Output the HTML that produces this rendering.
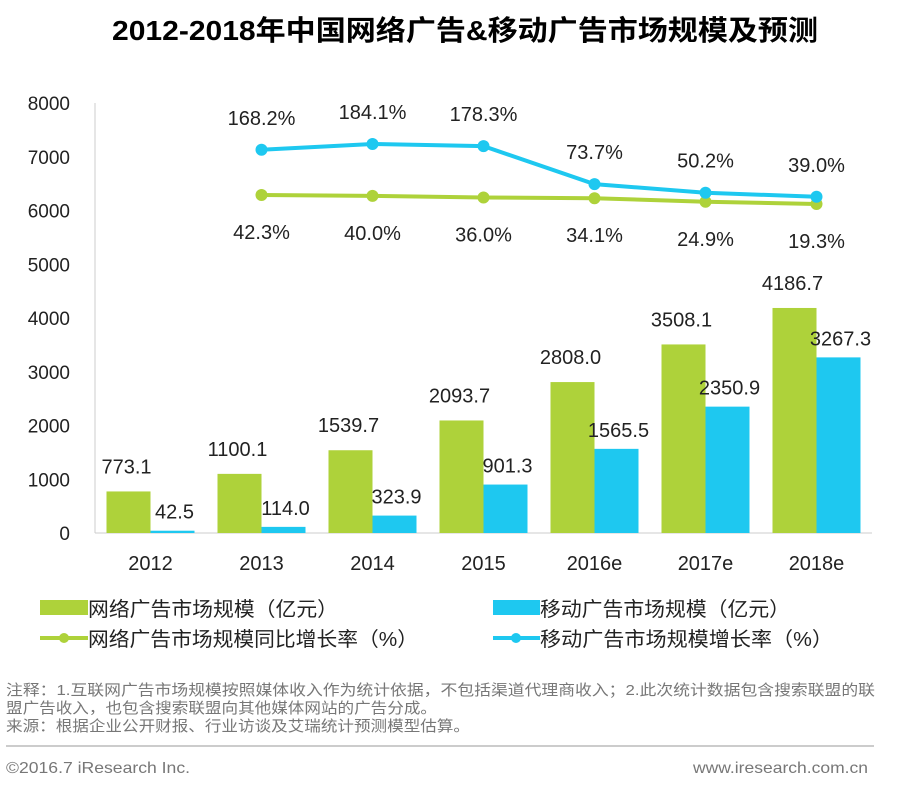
<!DOCTYPE html>
<html><head><meta charset="utf-8">
<style>
body{margin:0;width:900px;height:792px;background:#fff;overflow:hidden;font-family:"Liberation Sans","Noto Sans CJK SC",sans-serif;}
svg text{font-family:"Liberation Sans","Noto Sans CJK SC",sans-serif;}
</style></head><body>
<svg id="chart" width="900" height="792">
<text x="112" y="40" font-size="28" font-weight="bold" fill="#000" textLength="706" lengthAdjust="spacingAndGlyphs">2012-2018年中国网络广告&amp;移动广告市场规模及预测</text>
<g id="axes"></g><g id="bars"></g><g id="lines"></g>
<g>
<rect x="40" y="600" width="48" height="15" fill="#aed23a"/>
<text x="88" y="616" font-size="20" fill="#222" textLength="250" lengthAdjust="spacingAndGlyphs">网络广告市场规模（亿元）</text>
<rect x="493" y="600" width="47" height="15" fill="#1ec8f0"/>
<text x="540" y="616" font-size="20" fill="#222" textLength="250" lengthAdjust="spacingAndGlyphs">移动广告市场规模（亿元）</text>
<line x1="40" y1="638" x2="88" y2="638" stroke="#aed23a" stroke-width="4"/>
<circle cx="64" cy="638" r="5" fill="#aed23a"/>
<text x="88" y="646" font-size="20" fill="#222" textLength="330" lengthAdjust="spacingAndGlyphs">网络广告市场规模同比增长率（%）</text>
<line x1="493" y1="638" x2="540" y2="638" stroke="#1ec8f0" stroke-width="4"/>
<circle cx="516" cy="638" r="5" fill="#1ec8f0"/>
<text x="540" y="646" font-size="20" fill="#222" textLength="293" lengthAdjust="spacingAndGlyphs">移动广告市场规模增长率（%）</text>
</g>
<g font-size="15" fill="#777">
<text x="6" y="695" textLength="869" lengthAdjust="spacingAndGlyphs">注释：1.互联网广告市场规模按照媒体收入作为统计依据，不包括渠道代理商收入；2.此次统计数据包含搜索联盟的联</text>
<text x="6" y="713" textLength="431" lengthAdjust="spacingAndGlyphs">盟广告收入，也包含搜索联盟向其他媒体网站的广告分成。</text>
<text x="6" y="731" textLength="464" lengthAdjust="spacingAndGlyphs">来源：根据企业公开财报、行业访谈及艾瑞统计预测模型估算。</text>
</g>
<line x1="6" y1="746" x2="874" y2="746" stroke="#999" stroke-width="1"/>
<text x="6" y="773" font-size="16" fill="#777" textLength="184" lengthAdjust="spacingAndGlyphs">©2016.7 iResearch Inc.</text>
<text x="693" y="773" font-size="16" fill="#777" textLength="175" lengthAdjust="spacingAndGlyphs">www.iresearch.com.cn</text>
</svg>
<script>
const categories=["2012","2013","2014","2015","2016e","2017e","2018e"];
const webSize=[773.1,1100.1,1539.7,2093.7,2808.0,3508.1,4186.7];
const mobileSize=[42.5,114.0,323.9,901.3,1565.5,2350.9,3267.3];
const webGrowth=[null,42.3,40.0,36.0,34.1,24.9,19.3];
const mobileGrowth=[null,168.2,184.1,178.3,73.7,50.2,39.0];
const yTicks=[0,1000,2000,3000,4000,5000,6000,7000,8000];
const NS="http://www.w3.org/2000/svg";
const x0=95,band=111,yBase=533,pxPer=430/8000;
const y=v=>yBase-v*pxPer;
const xc=i=>x0+band*(i+0.5);
const yM=v=>211-0.364*v;
const yW=v=>211.5-0.39*v;
function mk(tag,attrs,parent,txt){const e=document.createElementNS(NS,tag);for(const k in attrs)e.setAttribute(k,attrs[k]);if(txt!==undefined)e.textContent=txt;parent.appendChild(e);return e;}
const axes=document.getElementById('axes'),bars=document.getElementById('bars'),lines=document.getElementById('lines');
mk('line',{x1:x0,y1:103,x2:x0,y2:yBase,stroke:'#ccc'},axes);
mk('line',{x1:x0,y1:yBase,x2:x0+band*7,y2:yBase,stroke:'#ccc'},axes);
yTicks.forEach(t=>{const e=mk('text',{x:70,y:y(t)+7,'text-anchor':'end','font-size':19,fill:'#222'},axes,t);

});
categories.forEach((c,i)=>{
const e=mk('text',{x:xc(i),y:570,'text-anchor':'middle','font-size':20,fill:'#222'},axes,c);


const g=mk('rect',{x:xc(i)-44,y:y(webSize[i]),width:44,height:webSize[i]*pxPer,fill:'#aed23a'},bars);


const b=mk('rect',{x:xc(i),y:y(mobileSize[i]),width:44,height:mobileSize[i]*pxPer,fill:'#1ec8f0'},bars);


const l1=mk('text',{x:xc(i)-24,y:y(webSize[i])-18,'text-anchor':'middle','font-size':20,fill:'#222'},bars,webSize[i].toFixed(1));


const mb=y(mobileSize[i]);
const l2=mk('text',{x:xc(i)+24,y:Math.min(mb-12,522),'text-anchor':'middle','font-size':20,fill:'#222'},bars,mobileSize[i].toFixed(1));


});
function series(vals,fy,color,name,lab){
let pts=[];vals.forEach((v,i)=>{if(v!==null)pts.push([xc(i),fy(v),v]);});
const pl=mk('polyline',{points:pts.map(p=>p[0]+','+p[1]).join(' '),fill:'none',stroke:color,'stroke-width':4},lines);


pts.forEach(p=>{const c=mk('circle',{cx:p[0],cy:p[1],r:6,fill:color},lines);


const t=mk('text',{x:p[0],y:p[1]+lab,'text-anchor':'middle','font-size':20,fill:'#222'},lines,p[2].toFixed(1)+'%');

});
}
series(webGrowth,yW,'#aed23a','web-growth',44);
series(mobileGrowth,yM,'#1ec8f0','mobile-growth',-25);
</script>
</body></html>
